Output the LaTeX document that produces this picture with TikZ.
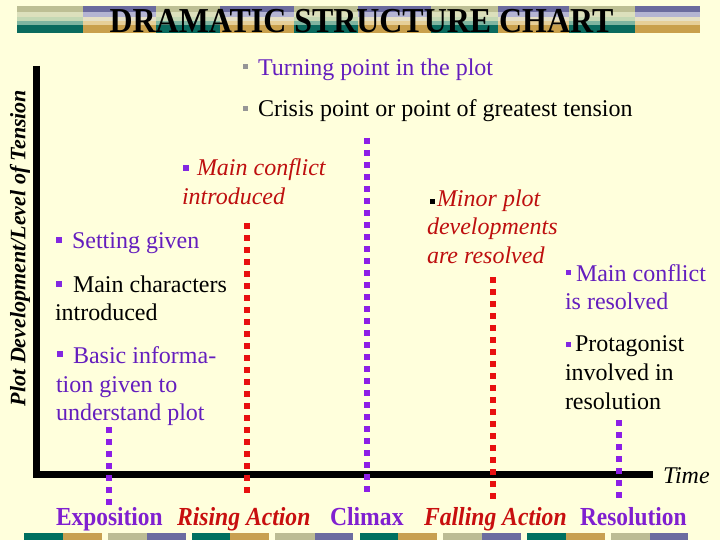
\documentclass[tikz,border=0pt]{standalone}
\usepackage{fontspec}
\setmainfont{Liberation Serif}
\definecolor{bg}{RGB}{255,255,220}
\definecolor{txtpurple}{RGB}{100,30,190}
\definecolor{lblpurple}{RGB}{128,32,208}
\definecolor{txtred}{RGB}{190,15,15}
\definecolor{lblred}{RGB}{200,15,15}
\definecolor{dotpurple}{RGB}{140,30,230}
\definecolor{dotred}{RGB}{232,16,16}
\definecolor{bulgrey}{RGB}{150,150,150}
\definecolor{bulpurple}{RGB}{130,40,225}
\definecolor{A1}{RGB}{189,191,148}
\definecolor{A2}{RGB}{220,224,188}
\definecolor{A3}{RGB}{196,216,180}
\definecolor{A4}{RGB}{127,181,160}
\definecolor{A5}{RGB}{10,107,94}
\definecolor{B1}{RGB}{107,107,158}
\definecolor{B2}{RGB}{180,180,210}
\definecolor{B3}{RGB}{230,224,196}
\definecolor{B4}{RGB}{230,207,152}
\definecolor{B5}{RGB}{201,160,76}
\definecolor{barteal}{RGB}{0,112,96}
\definecolor{bargold}{RGB}{200,160,80}
\definecolor{bargg}{RGB}{188,188,148}
\definecolor{barpp}{RGB}{108,108,160}
\newcommand{\condtxt}[2]{\scalebox{#1}[1]{#2}}
\begin{document}
\begin{tikzpicture}[x=1pt,y=-1pt,
  txt/.style={anchor=base west, inner sep=0pt, outer sep=0pt, font=\fontsize{24}{28}\selectfont},
  itxt/.style={txt, font=\fontsize{24}{28}\selectfont\itshape},
  lbl/.style={anchor=base west, inner sep=0pt, outer sep=0pt, font=\fontsize{26}{30}\selectfont\bfseries},
  ilbl/.style={lbl, font=\fontsize{26}{30}\selectfont\bfseries\itshape},
  dotline/.style={line width=6pt, dash pattern=on 6pt off 6pt},
  axisline/.style={line width=7pt, black}]
\useasboundingbox (0,0) rectangle (720,540);
\fill[bg] (0,0) rectangle (720,540);
% title bar
\foreach \a/\b/\t in {17/83/A,83/156/B,156/220/A,220/294/B,294/358/A,358/431/B,431/498/A,498/569/B,569/635/A,635/700/B}{
  \fill[fill=\t1] (\a,6) rectangle (\b,12);
  \fill[fill=\t2] (\a,12) rectangle (\b,17);
  \fill[fill=\t3] (\a,17) rectangle (\b,21);
  \fill[fill=\t4] (\a,21) rectangle (\b,25);
  \fill[fill=\t5] (\a,25) rectangle (\b,33);
}
\node[anchor=base, inner sep=0pt, font=\fontsize{35}{40}\selectfont\bfseries] (title) at (361.5,32.5) {\condtxt{0.912}{DRAMATIC STRUCTURE CHART}};
% bottom bar
\foreach \a/\m/\b/\c/\d in {24/63/102/barteal/bargold,108/147/186/bargg/barpp,192/230/269/barteal/bargold,275/315/353/bargg/barpp,360/398/437/barteal/bargold,443/482/521/bargg/barpp,527/566/605/barteal/bargold,611/650/688/bargg/barpp}{
  \fill[fill=\c] (\a,533) rectangle (\m,540);
  \fill[fill=\d] (\m,533) rectangle (\b,540);
}
% axes
\coordinate (ytop) at (36.5,66);
\coordinate (ybot) at (36.5,478);
\coordinate (xleft) at (33,474.5);
\coordinate (xright) at (653,474.5);
\draw[axisline] (ytop) -- (ybot);
\draw[axisline] (xleft) -- (xright);
\node[rotate=90, inner sep=0pt, font=\fontsize{22}{26}\selectfont\bfseries\itshape] (ylabel) at (20,248) {Plot Development/Level of Tension};
\node[itxt] (time) at (663,483) {Time};
% dotted lines
\draw[dotline, dotpurple] (109,427) -- (109,505);
\draw[dotline, dotred] (246.5,223) -- (246.5,493);
\draw[dotline, dotpurple] (366.5,138) -- (366.5,494);
\draw[dotline, dotred] (492.5,277) -- (492.5,499);
\draw[dotline, dotpurple] (618.5,420) -- (618.5,498);
% top texts
\fill[bulgrey] (243,64) rectangle (248,69);
\node[txt, txtpurple] (turn) at (258,76) {Turning point in the plot};
\fill[bulgrey] (243,106) rectangle (248,111);
\node[txt] (crisis) at (258,117) {Crisis point or point of greatest tension};
% main conflict introduced
\fill[bulpurple] (183,165) rectangle (189,171);
\node[itxt, txtred] (mc1) at (197,176) {Main conflict};
\node[itxt, txtred] (mc2) at (182,205) {introduced};
% setting
\fill[bulpurple] (56,237) rectangle (62,243);
\node[txt, txtpurple] (set) at (72,248) {Setting given};
% main characters
\fill[bulpurple] (56,281) rectangle (62,287);
\node[txt] (ch1) at (73,292) {Main characters};
\node[txt] (ch2) at (55,320) {introduced};
% basic information
\fill[bulpurple] (57,351) rectangle (63,357);
\node[txt, txtpurple] (bi1) at (73,363) {Basic informa-};
\node[txt, txtpurple] (bi2) at (56,392) {tion given to};
\node[txt, txtpurple] (bi3) at (56,420) {understand plot};
% minor plot
\fill[black] (430,199) rectangle (435,204);
\node[itxt, txtred] (mp1) at (437,207) {Minor plot};
\node[itxt, txtred] (mp2) at (427,235) {developments};
\node[itxt, txtred] (mp3) at (427,263) {are resolved};
% main conflict resolved
\fill[bulpurple] (566,270) rectangle (571,275);
\node[txt, txtpurple] (mr1) at (576,281) {Main conflict};
\node[txt, txtpurple] (mr2) at (565,309) {is resolved};
% protagonist
\fill[bulpurple] (566,342) rectangle (571,347);
\node[txt] (pr1) at (575,351) {Protagonist};
\node[txt] (pr2) at (565,380) {involved in};
\node[txt] (pr3) at (565,409) {resolution};
% bottom labels
\node[lbl, lblpurple] (expo) at (56,525) {\condtxt{0.9}{Exposition}};
\node[ilbl, lblred] (rise) at (177,525) {\condtxt{0.91}{Rising Action}};
\node[lbl, lblpurple] (climax) at (330,525) {\condtxt{0.91}{Climax}};
\node[ilbl, lblred] (fall) at (424,525) {\condtxt{0.91}{Falling Action}};
\node[lbl, lblpurple] (reso) at (580,525) {\condtxt{0.9}{Resolution}};
\end{tikzpicture}
\end{document}
